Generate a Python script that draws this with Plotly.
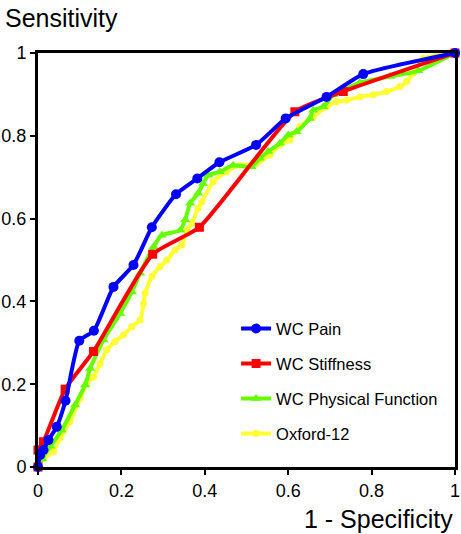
import plotly.graph_objects as go

# WC Pain
pain_x = [0, 0.005, 0.013, 0.025, 0.045, 0.066, 0.099, 0.134, 0.181, 0.229, 0.273, 0.331, 0.382, 0.435, 0.523, 0.594, 0.692, 0.780, 1.0]
pain_y = [0, 0.029, 0.041, 0.065, 0.097, 0.160, 0.305, 0.329, 0.435, 0.488, 0.579, 0.659, 0.697, 0.736, 0.778, 0.842, 0.894, 0.949, 1.0]

# WC Stiffness
stiff_x = [0, 0.0, 0.013, 0.065, 0.133, 0.275, 0.387, 0.616, 0.732, 1.0]
stiff_y = [0, 0.041, 0.061, 0.188, 0.279, 0.514, 0.579, 0.858, 0.907, 1.0]

# WC Physical Function
phys_x = [0, 0.01, 0.03, 0.057, 0.089, 0.113, 0.125, 0.157, 0.197, 0.225, 0.245, 0.277, 0.297, 0.341, 0.353, 0.365,
          0.384, 0.396, 0.408, 0.436, 0.468, 0.512, 0.532, 0.552, 0.580, 0.600, 0.620, 0.652, 0.660, 0.684, 0.708,
          0.772, 0.844, 0.912, 1.0]
phys_y = [0, 0.02, 0.05, 0.089, 0.150, 0.198, 0.238, 0.307, 0.371, 0.423, 0.468, 0.532, 0.560, 0.572, 0.597, 0.637,
          0.661, 0.685, 0.705, 0.713, 0.729, 0.725, 0.746, 0.762, 0.782, 0.802, 0.810, 0.842, 0.862, 0.870, 0.899,
          0.928, 0.943, 0.957, 1.0]

# Oxford-12
ox_x = [0, 0.013, 0.037, 0.053, 0.077, 0.101, 0.117, 0.133, 0.149, 0.165, 0.185, 0.205, 0.225, 0.245, 0.253, 0.257,
        0.273, 0.293, 0.309, 0.329, 0.345, 0.357, 0.369, 0.384, 0.393, 0.420, 0.452, 0.484, 0.524, 0.556, 0.580,
        0.604, 0.628, 0.660, 0.692, 0.716, 0.740, 0.772, 0.804, 0.836, 0.868, 0.884, 0.900, 0.924, 0.956, 0.988, 1.0]
ox_y = [0, 0.02, 0.037, 0.07, 0.11, 0.166, 0.202, 0.218, 0.250, 0.283, 0.303, 0.319, 0.339, 0.355, 0.395, 0.420,
        0.460, 0.484, 0.500, 0.524, 0.536, 0.572, 0.589, 0.625, 0.641, 0.689, 0.713, 0.729, 0.733, 0.754, 0.778,
        0.790, 0.822, 0.846, 0.870, 0.882, 0.886, 0.894, 0.899, 0.907, 0.919, 0.931, 0.951, 0.987, 0.995, 1.0, 1.0]

tick_vals = [0, 0.2, 0.4, 0.6, 0.8, 1]
tick_text = ["0", "0.2", "0.4", "0.6", "0.8", "1"]

FONT = "Liberation Sans, Arial, Helvetica, sans-serif"

fig = go.Figure()
series = [
    ("Oxford-12", ox_x, ox_y, "#FFFF33", "circle", 7, 4),
    ("WC Physical Function", phys_x, phys_y, "#66FF00", "triangle-up", 9, 3),
    ("WC Stiffness", stiff_x, stiff_y, "#FF0000", "square", 9, 2),
    ("WC Pain", pain_x, pain_y, "#0000FF", "circle", 10, 1),
]
for name, xs, ys, col, sym, ms, rank in series:
    fig.add_trace(go.Scatter(
        x=xs, y=ys, name=name, mode="lines+markers",
        line=dict(color=col, width=4, shape="spline", smoothing=0.5),
        marker=dict(color=col, symbol=sym, size=ms),
        cliponaxis=False, legendgroup="g%d" % rank, legendrank=rank,
    ))

axis_common = dict(
    range=[0, 1], tickvals=tick_vals, ticktext=tick_text, automargin=False,
    showgrid=False, zeroline=False, showline=True, linecolor="black", linewidth=3,
    mirror=True, ticks="outside", ticklen=5, tickwidth=2, tickcolor="black",
    tickfont=dict(family=FONT, size=18, color="black"),
)
fig.update_xaxes(**axis_common)
fig.update_yaxes(**axis_common)

fig.update_layout(
    width=461, height=534,
    margin=dict(l=38, r=6, t=53, b=67),
    plot_bgcolor="white", paper_bgcolor="white",
    font=dict(family=FONT, color="black"),
    legend=dict(
        x=0.475, y=0.376, xanchor="left", yanchor="top",
        traceorder="grouped", tracegroupgap=10.5,
        font=dict(family=FONT, size=16.5, color="black"),
        bgcolor="rgba(0,0,0,0)", borderwidth=0,
    ),
    annotations=[
        dict(text="Sensitivity", xref="paper", yref="paper", x=-0.084, y=1.085,
             xanchor="left", yanchor="middle", showarrow=False,
             font=dict(family=FONT, size=25, color="black")),
        dict(text="1 - Specificity", xref="paper", yref="paper", x=1.0, y=-0.125,
             xanchor="right", yanchor="middle", showarrow=False,
             font=dict(family=FONT, size=25, color="black")),
    ],
)

fig.write_html("out.html", post_script="document.body.style.margin='0';",
               config={"displayModeBar": False})
